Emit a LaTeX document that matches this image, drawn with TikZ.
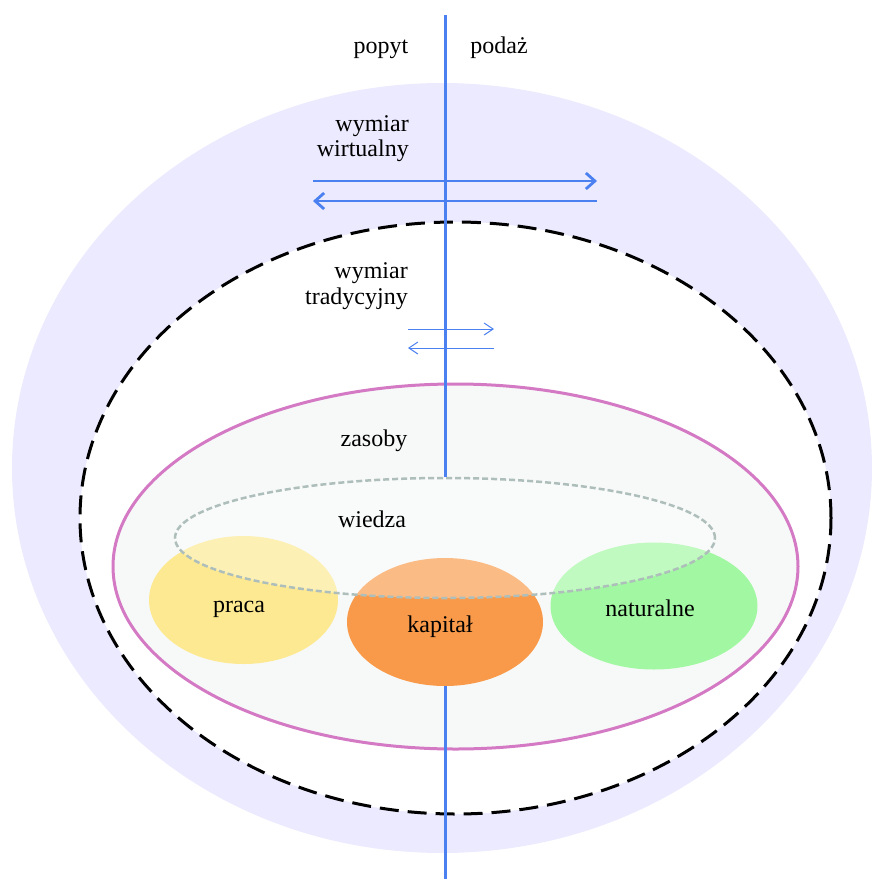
\documentclass[tikz,border=0pt]{standalone}
\usepackage{fontspec}
\setmainfont{Liberation Serif}
\usetikzlibrary{shapes.geometric,arrows.meta}
\definecolor{lav}{RGB}{236,234,254}
\definecolor{pinkline}{RGB}{212,122,196}
\definecolor{resfill}{RGB}{247,249,248}
\definecolor{blueline}{RGB}{74,128,239}
\definecolor{wgray}{RGB}{174,191,187}
\definecolor{yel}{RGB}{253,233,146}
\definecolor{ora}{RGB}{249,154,74}
\definecolor{grn}{RGB}{162,248,162}
\begin{document}
\begin{tikzpicture}[x=1pt,y=-1pt,
  oval/.style={ellipse, inner sep=0pt, draw=none},
  lbl/.style={anchor=base, inner sep=0pt, font=\fontsize{24}{27}\selectfont},
  lblr/.style={lbl, anchor=base east},
  axis/.style={draw=blueline, line width=3pt},
  bigarrow/.style={draw=blueline, line width=2.8pt, -{Straight Barb[length=9pt,width=16pt]}},
  smallarrow/.style={draw=blueline, line width=1pt, -{Straight Barb[length=9pt,width=12pt]}}]
\useasboundingbox (0,0) rectangle (871,879);
% outer virtual dimension
\node[oval, fill=lav, minimum width=860pt, minimum height=770pt] (outer) at (442,468) {};
% traditional dimension
\node[oval, draw=black, line width=3pt, dash pattern=on 19pt off 9pt, fill=white,
      minimum width=751pt, minimum height=592pt] (trad) at (455.5,518) {};
% resources
\node[oval, draw=pinkline, line width=3pt, fill=resfill,
      minimum width=685pt, minimum height=365pt] (zas) at (455.5,566.5) {};
% three resources
\node[oval, fill=yel, minimum width=189pt, minimum height=128pt] (praca) at (243.5,600) {};
\node[oval, fill=ora, minimum width=196pt, minimum height=128pt] (kapital) at (445,622) {};
\node[oval, fill=grn, minimum width=207pt, minimum height=127pt] (natur) at (654,606) {};
% knowledge
\node[ellipse, inner sep=0pt, draw=wgray, line width=2.5pt, dash pattern=on 6pt off 3pt,
      fill=white, fill opacity=0.33, draw opacity=1,
      minimum width=540pt, minimum height=120pt] (wiedza) at (445,538) {};
% axis
\coordinate (vtop) at (445,15);
\coordinate (vbot) at (445,879);
\draw[axis] (vtop) -- (wiedza.north);
\draw[axis] (kapital.south) -- (vbot);
% arrows
\coordinate (a1s) at (313,181);
\coordinate (a1e) at (597,181);
\coordinate (a2s) at (597,201);
\coordinate (a2e) at (313,201);
\draw[bigarrow] (a1s) -- (a1e);
\draw[bigarrow] (a2s) -- (a2e);
\coordinate (b1s) at (408,329);
\coordinate (b1e) at (494,329);
\coordinate (b2s) at (494,348);
\coordinate (b2e) at (408,348);
\draw[smallarrow] (b1s) -- (b1e);
\draw[smallarrow] (b2s) -- (b2e);
% labels
\node[lbl] (popyt) at (381,53) {popyt};
\node[lbl] (podaz) at (499,53) {podaż};
\node[lblr] (wv1) at (409,131) {wymiar};
\node[lblr] (wv2) at (409,156) {wirtualny};
\node[lblr] (wt1) at (408,278) {wymiar};
\node[lblr] (wt2) at (408,304) {tradycyjny};
\node[lbl] (tzas) at (374,446) {zasoby};
\node[lbl] (twiedza) at (372,527) {wiedza};
\node[lbl] (tpraca) at (239,612) {praca};
\node[lbl] (tkapital) at (440,632) {kapitał};
\node[lbl] (tnatur) at (650,616) {naturalne};
\end{tikzpicture}
\end{document}
